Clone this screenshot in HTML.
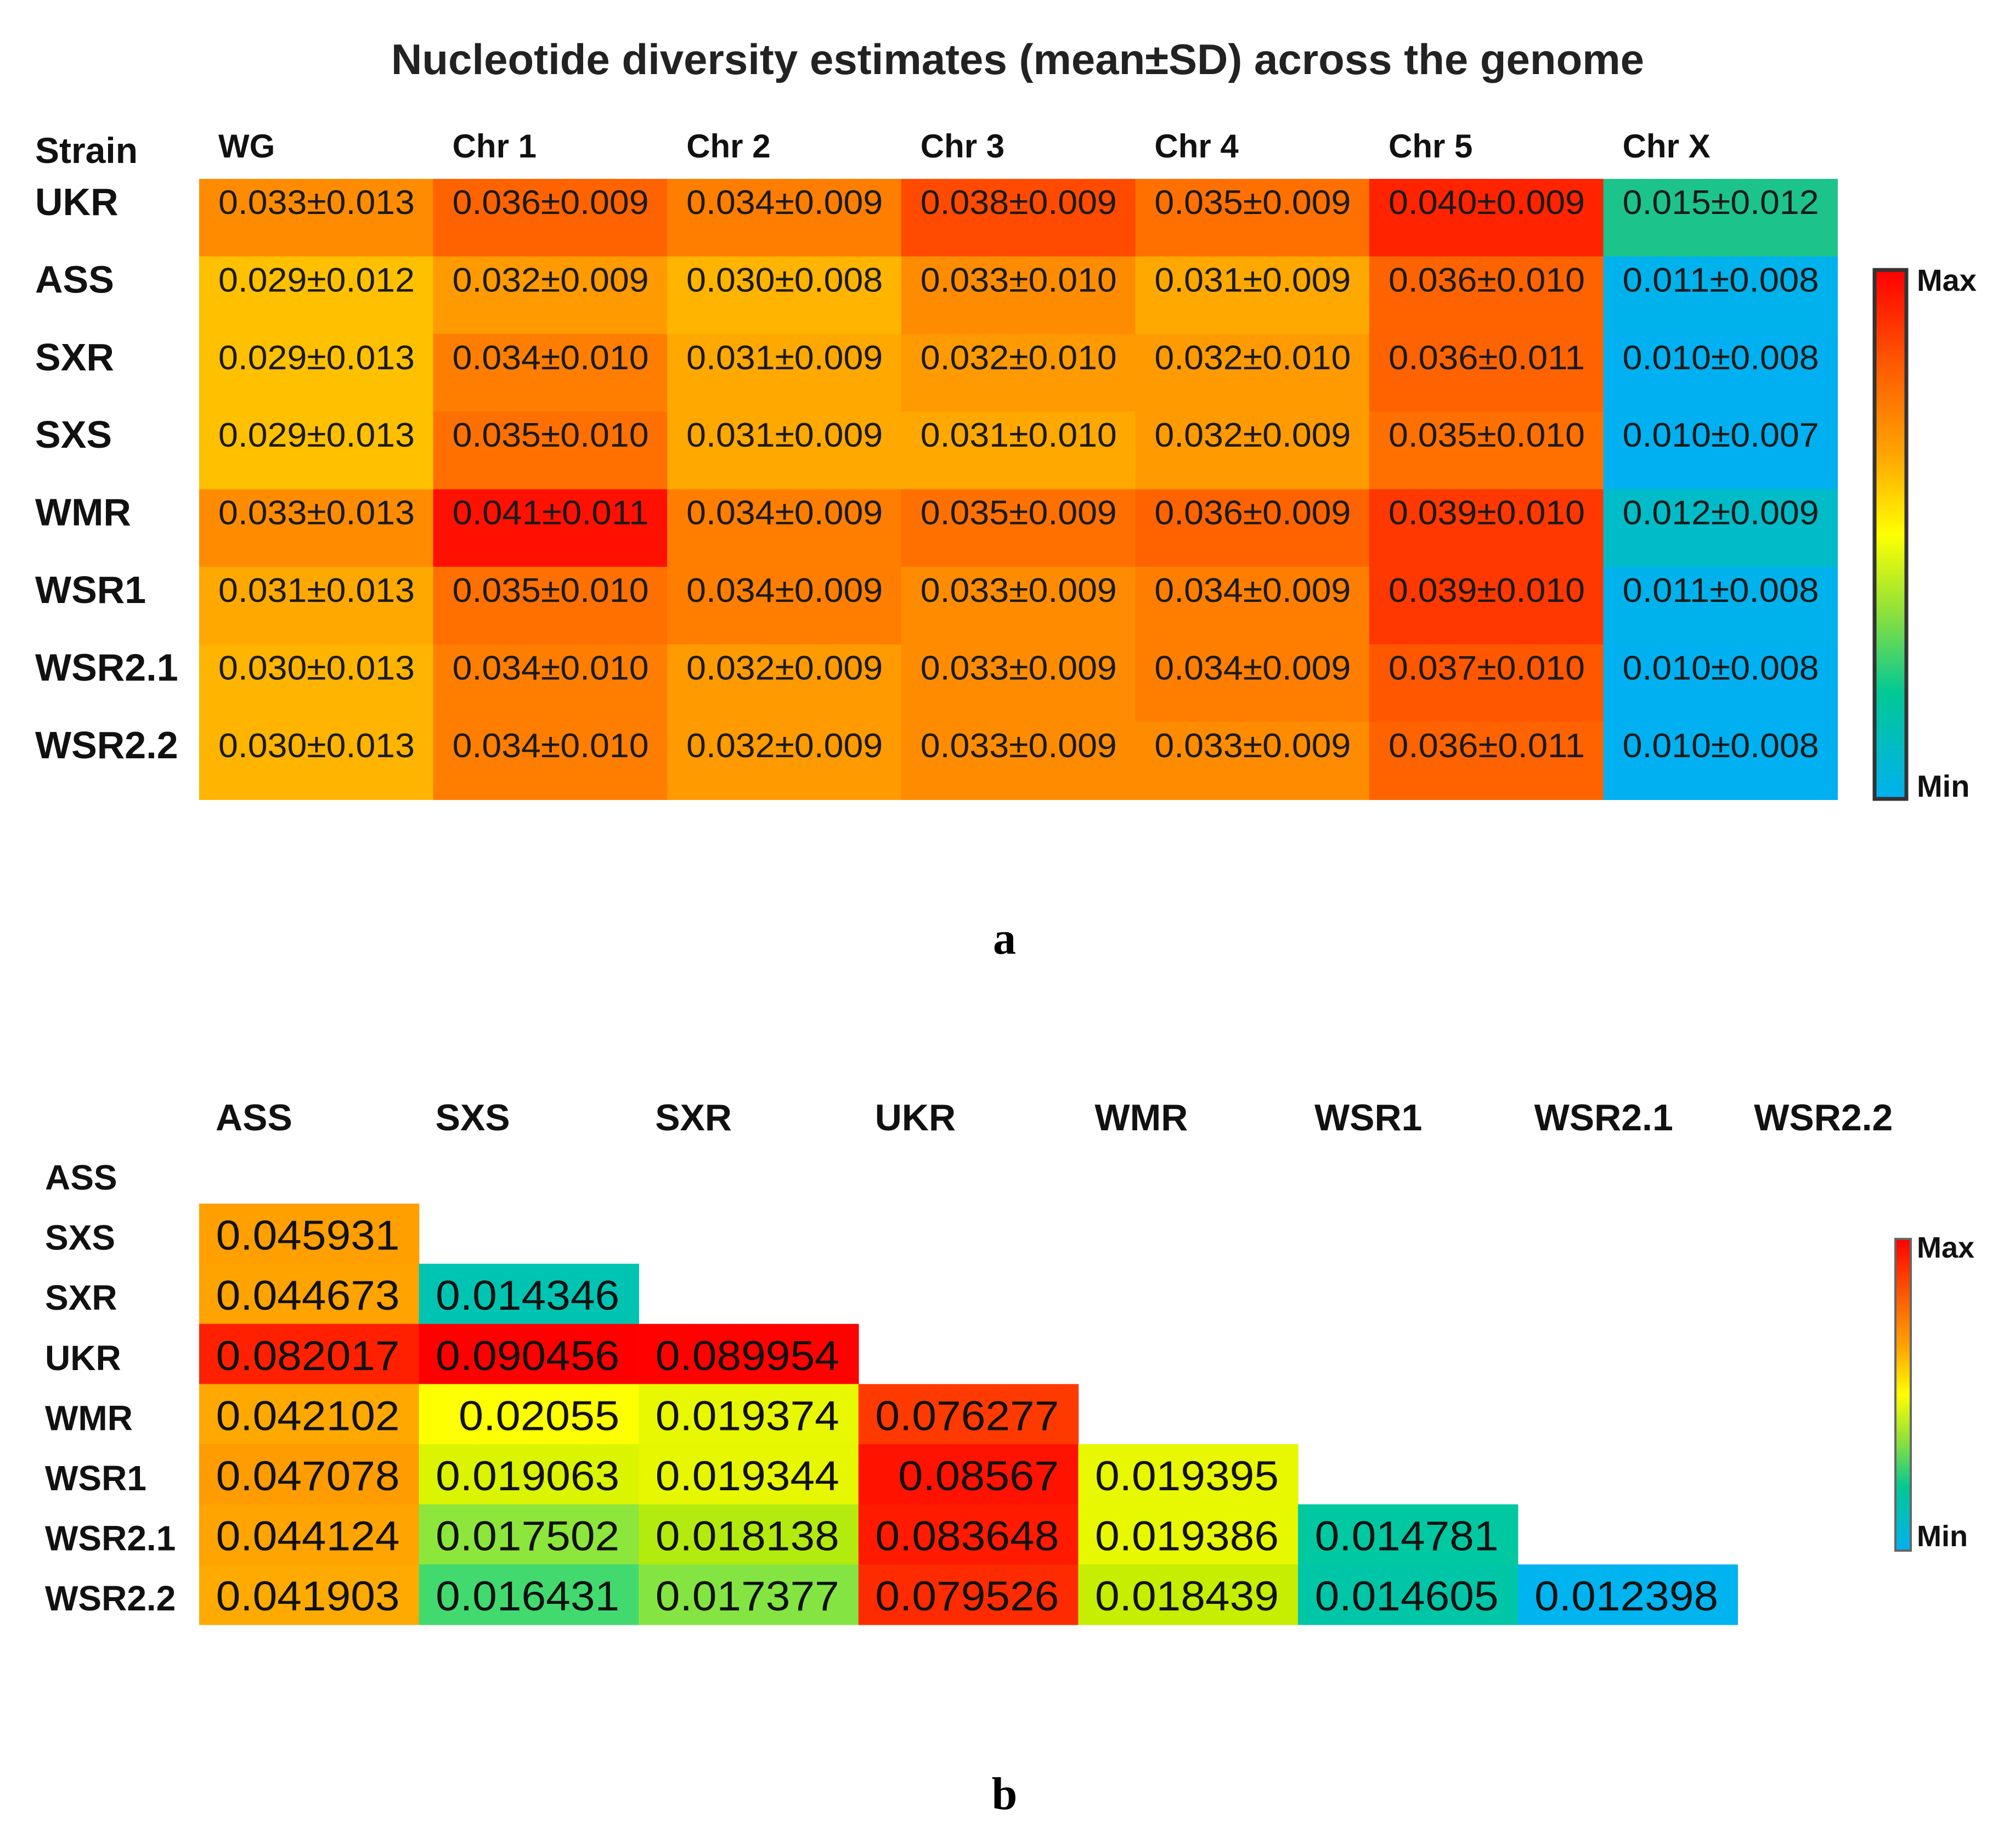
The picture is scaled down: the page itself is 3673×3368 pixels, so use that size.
<!DOCTYPE html>
<html><head><meta charset="utf-8"><style>
html,body{margin:0;padding:0;background:#fff}
svg{display:block}
</style></head><body>
<svg id="chart" xmlns="http://www.w3.org/2000/svg" width="3673" height="3368" viewBox="0 0 3673 3368">
<defs>
<linearGradient id="cbar" x1="0" y1="1" x2="0" y2="0">
<stop offset="0" stop-color="#00b0f0"/><stop offset="0.2" stop-color="#00c896"/><stop offset="0.35" stop-color="#8ce03c"/><stop offset="0.5" stop-color="#ffff00"/><stop offset="0.65" stop-color="#ffa500"/><stop offset="0.82" stop-color="#ff5a00"/><stop offset="1" stop-color="#ff0000"/>
</linearGradient>
</defs>
<text x="1855" y="135" text-anchor="middle" font-family="Liberation Sans, sans-serif" font-weight="bold" font-size="78" fill="#222">Nucleotide diversity estimates (mean±SD) across the genome</text>
<g id="pa"></g>
<g id="pb"></g>
<text x="1831" y="1738" text-anchor="middle" font-family="Liberation Serif, serif" font-weight="bold" font-size="84">a</text>
<text x="1831" y="3297" text-anchor="middle" font-family="Liberation Serif, serif" font-weight="bold" font-size="84">b</text>
</svg>
<script>
const aCols = ["WG","Chr 1","Chr 2","Chr 3","Chr 4","Chr 5","Chr X"];
const aRows = ["UKR","ASS","SXR","SXS","WMR","WSR1","WSR2.1","WSR2.2"];
const aMeans = [
 [0.033,0.036,0.034,0.038,0.035,0.040,0.015],
 [0.029,0.032,0.030,0.033,0.031,0.036,0.011],
 [0.029,0.034,0.031,0.032,0.032,0.036,0.010],
 [0.029,0.035,0.031,0.031,0.032,0.035,0.010],
 [0.033,0.041,0.034,0.035,0.036,0.039,0.012],
 [0.031,0.035,0.034,0.033,0.034,0.039,0.011],
 [0.030,0.034,0.032,0.033,0.034,0.037,0.010],
 [0.030,0.034,0.032,0.033,0.033,0.036,0.010]];
const aSDs = [
 [0.013,0.009,0.009,0.009,0.009,0.009,0.012],
 [0.012,0.009,0.008,0.010,0.009,0.010,0.008],
 [0.013,0.010,0.009,0.010,0.010,0.011,0.008],
 [0.013,0.010,0.009,0.010,0.009,0.010,0.007],
 [0.013,0.011,0.009,0.009,0.009,0.010,0.009],
 [0.013,0.010,0.009,0.009,0.009,0.010,0.008],
 [0.013,0.010,0.009,0.009,0.009,0.010,0.008],
 [0.013,0.010,0.009,0.009,0.009,0.011,0.008]];
const bCols = ["ASS","SXS","SXR","UKR","WMR","WSR1","WSR2.1","WSR2.2"];
const bRows = ["ASS","SXS","SXR","UKR","WMR","WSR1","WSR2.1","WSR2.2"];
const bValues = [
 [],
 ["0.045931"],
 ["0.044673","0.014346"],
 ["0.082017","0.090456","0.089954"],
 ["0.042102","0.02055","0.019374","0.076277"],
 ["0.047078","0.019063","0.019344","0.08567","0.019395"],
 ["0.044124","0.017502","0.018138","0.083648","0.019386","0.014781"],
 ["0.041903","0.016431","0.017377","0.079526","0.018439","0.014605","0.012398"]];

const NS="http://www.w3.org/2000/svg";
function mk(tag, attrs, parent, txt){const e=document.createElementNS(NS,tag);for(const k in attrs)e.setAttribute(k,attrs[k]);if(txt!==undefined)e.textContent=txt;parent.appendChild(e);return e;}
function hex(h){return [parseInt(h.slice(1,3),16),parseInt(h.slice(3,5),16),parseInt(h.slice(5,7),16)];}
function ramp(stops, v){
 if(v<=stops[0][0])return stops[0][1];
 for(let i=1;i<stops.length;i++){if(v<=stops[i][0]){const t=(v-stops[i-1][0])/(stops[i][0]-stops[i-1][0]);const a=hex(stops[i-1][1]),b=hex(stops[i][1]);return "rgb("+a.map((x,j)=>Math.round(x+(b[j]-x)*t)).join(",")+")";}}
 return stops[stops.length-1][1];
}
const aStops=[[0.010,"#00b0f0"],[0.011,"#00b2ec"],[0.012,"#00bcc8"],[0.015,"#1cc48c"],[0.022,"#ffe000"],[0.029,"#ffc000"],[0.031,"#ffa800"],[0.033,"#ff8c00"],[0.035,"#ff7000"],[0.038,"#ff4a00"],[0.041,"#ff1000"]];
const bStops=[[0.0124,"#00b4f0"],[0.0143,"#00c4b4"],[0.0148,"#00c8a0"],[0.0164,"#40da70"],[0.0175,"#8ce63c"],[0.0181,"#b0ea10"],[0.0184,"#c4ee00"],[0.0191,"#dcf400"],[0.0194,"#e8f800"],[0.0206,"#ffff00"],[0.0419,"#ffaa00"],[0.0471,"#ff9c00"],[0.0763,"#ff3a00"],[0.082,"#ff2000"],[0.0905,"#ff0000"]];

// Panel a axes
const ax0=363, aw=426.6, ay0=326, ah=141.4;
const xA=i=>ax0+i*aw, yA=j=>ay0+j*ah;
const pa=document.getElementById('pa');
let t=mk('text',{x:64,y:297,'font-family':'Liberation Sans, sans-serif','font-weight':'bold','font-size':66,fill:'#111'},pa,'Strain');


aCols.forEach((c,i)=>{
 const e=mk('text',{x:xA(i)+35,y:287,'font-family':'Liberation Sans, sans-serif','font-weight':'bold','font-size':60,fill:'#111'},pa,c);
 
 
});
aRows.forEach((r,j)=>{
 const e=mk('text',{x:64,y:yA(j)+66,'font-family':'Liberation Sans, sans-serif','font-weight':'bold','font-size':70,fill:'#111'},pa,r);
 
 
 aMeans[j].forEach((m,i)=>{
  const rc=mk('rect',{x:xA(i),y:yA(j),width:aw+0.8,height:ah+0.8,fill:ramp(aStops,m)},pa);
  
  
  const tx=mk('text',{x:xA(i)+35,y:yA(j)+64,'font-family':'Liberation Sans, sans-serif','font-size':62,fill:'#1a1a1a',textLength:358,lengthAdjust:'spacingAndGlyphs'},pa,m.toFixed(3)+'±'+aSDs[j][i].toFixed(3));
  
  
 });
});
let cb=mk('rect',{x:3417,y:492,width:58,height:964,fill:'url(#cbar)',stroke:'#333','stroke-width':7},pa);


let mx=mk('text',{x:3494,y:530,'font-family':'Liberation Sans, sans-serif','font-weight':'bold','font-size':56,fill:'#111'},pa,'Max');


let mn=mk('text',{x:3494,y:1452,'font-family':'Liberation Sans, sans-serif','font-weight':'bold','font-size':56,fill:'#111'},pa,'Min');



// Panel b axes
const bx0=363, bw=400.6, by0=2084, bh=109.6;
const xB=i=>bx0+i*bw, yB=j=>by0+j*bh;
const pb=document.getElementById('pb');
const NF='Liberation Sans Narrow, Liberation Sans, sans-serif';
bCols.forEach((c,i)=>{
 const e=mk('text',{x:xB(i)+30,y:2060,'font-family':NF,'font-weight':'bold','font-size':68,fill:'#111'},pb,c);
 
 
});
bRows.forEach((r,j)=>{
 const e=mk('text',{x:82,y:yB(j)+84,'font-family':NF,'font-weight':'bold','font-size':64,fill:'#111'},pb,r);
 
 
 bValues[j].forEach((v,i)=>{
  const rc=mk('rect',{x:xB(i),y:yB(j),width:bw+0.8,height:bh+0.8,fill:ramp(bStops,parseFloat(v))},pb);
  
  
  const w=335*v.length/8;
  const tx=mk('text',{x:xB(i)+bw-35,y:yB(j)+84,'text-anchor':'end','font-family':NF,'font-size':76,fill:'#111',textLength:w,lengthAdjust:'spacingAndGlyphs'},pb,v);
  
  
 });
});
let cb2=mk('rect',{x:3455,y:2258,width:28,height:568,fill:'url(#cbar)',stroke:'#666','stroke-width':4},pb);


let mx2=mk('text',{x:3494,y:2292,'font-family':NF,'font-weight':'bold','font-size':54,fill:'#111'},pb,'Max');


let mn2=mk('text',{x:3494,y:2818,'font-family':NF,'font-weight':'bold','font-size':54,fill:'#111'},pb,'Min');


</script>
</body></html>
